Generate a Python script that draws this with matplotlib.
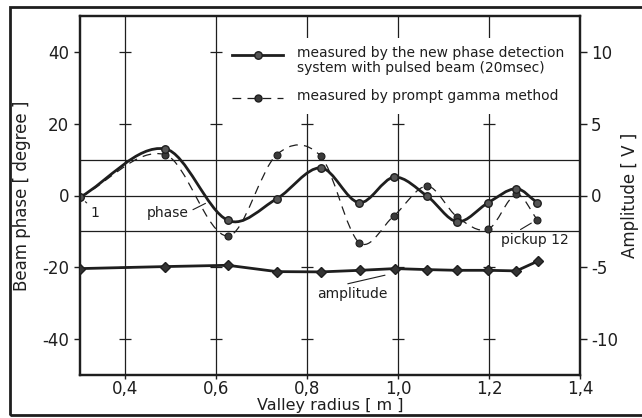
import numpy as np
import matplotlib
matplotlib.use("Agg")
import matplotlib.pyplot as plt
from matplotlib.path import Path
from matplotlib.patches import PathPatch, Rectangle
from matplotlib.lines import Line2D

plt.rcParams['font.family'] = ['DejaVu Sans']
plt.rcParams['axes.unicode_minus'] = False

# ---- data ----
phase_x = [0.300, 0.487, 0.625, 0.733, 0.830, 0.914, 0.991, 1.064, 1.130, 1.198, 1.260, 1.306]
phase_new = [-0.5, 13.0, -6.9, -0.9, 7.7, -2.0, 5.1, -0.2, -7.3, -2.0, 1.9, -2.0]
phase_gamma = [-0.5, 11.4, -11.3, 11.4, 10.9, -13.1, -5.6, 2.6, -6.0, -9.4, 0.3, -6.7]
amp_x = [0.300, 0.487, 0.625, 0.733, 0.830, 0.916, 0.993, 1.064, 1.129, 1.198, 1.260, 1.308]
amplitude = [-5.09, -4.95, -4.86, -5.30, -5.32, -5.21, -5.09, -5.16, -5.21, -5.21, -5.25, -4.56]

xticks = [0.4, 0.6, 0.8, 1.0, 1.2, 1.4]
xticklabels = ['0,4', '0,6', '0,8', '1,0', '1,2', '1,4']
yticks_left = [-40, -20, 0, 20, 40]
yticks_right = [-10, -5, 0, 5, 10]
grid_x = [0.4, 0.6, 0.8, 1.0, 1.2]
grid_y = [-10, 0, 10]
cross_y = [-40, -20, 20, 40]

legend_labels = ['measured by the new phase detection\nsystem with pulsed beam (20msec)',
                 'measured by prompt gamma method']

INK = '#1e1e1e'


def smooth_path(xs, ys):
    """Bezier path (Catmull-Rom style tangents) through the points."""
    x = np.asarray(xs, float)
    y = np.asarray(ys, float)
    n = len(x)
    d = np.zeros(n)
    d[0] = (y[1] - y[0]) / (x[1] - x[0])
    d[-1] = (y[-1] - y[-2]) / (x[-1] - x[-2])
    for i in range(1, n - 1):
        d[i] = (y[i + 1] - y[i - 1]) / (x[i + 1] - x[i - 1])
    verts = [(x[0], y[0])]
    codes = [Path.MOVETO]
    for i in range(n - 1):
        h = x[i + 1] - x[i]
        verts += [(x[i] + h / 3, y[i] + d[i] * h / 3),
                  (x[i + 1] - h / 3, y[i + 1] - d[i + 1] * h / 3),
                  (x[i + 1], y[i + 1])]
        codes += [Path.CURVE4] * 3
    return Path(verts, codes)


fig = plt.figure(figsize=(6.42, 4.18), dpi=100, facecolor='white')
ax = fig.add_axes([80 / 642, 1 - 375 / 418, 500 / 642, 359 / 418])
ax.set_xlim(0.3, 1.4)
ax.set_ylim(-50, 50)

# grid
for gx in grid_x:
    ax.axvline(gx, color=INK, lw=0.9, zorder=1)
for gy in grid_y:
    ax.axhline(gy, color=INK, lw=0.9, zorder=1)
for gx in grid_x:
    ax.plot([gx] * len(cross_y), cross_y, ls='none', marker='_', ms=8, mew=0.9,
            color=INK, zorder=1)

# phase curves
ax.add_patch(PathPatch(smooth_path(phase_x, phase_new), fill=False, lw=2.0,
                       edgecolor=INK, zorder=4, capstyle='round'))
ax.add_patch(PathPatch(smooth_path(phase_x, phase_gamma), fill=False, lw=0.9,
                       edgecolor=INK, linestyle=(0, (7, 5)), zorder=3))
ax.plot(phase_x, phase_new, ls='none', marker='o', ms=5.4, mfc='#555555',
        mec=INK, mew=1.0, zorder=6)
ax.plot(phase_x, phase_gamma, ls='none', marker='o', ms=5.0, mfc='#3a3a3a',
        mec=INK, mew=0.8, zorder=5)

# amplitude on right axis
ax2 = ax.twinx()
ax2.set_ylim(-12.5, 12.5)
ax2.plot(amp_x, amplitude, color=INK, lw=2.0, marker='D', ms=5.5, mfc='#333333',
         mec=INK, zorder=5)

# ticks
ax.set_xticks(xticks)
ax.set_xticklabels(xticklabels)
ax.set_yticks(yticks_left)
ax2.set_yticks(yticks_right)
ax.tick_params(axis='x', direction='out', length=3, width=1, labelsize=12, pad=0.5,
               colors=INK)
ax.tick_params(axis='y', direction='out', length=4, width=1, labelsize=12, pad=4,
               colors=INK)
ax2.tick_params(axis='y', direction='out', length=5, width=1, labelsize=12, pad=3,
                colors=INK)
for a in (ax, ax2):
    for s in a.spines.values():
        s.set_linewidth(1.6)
        s.set_color(INK)

ax.set_xlabel('Valley radius [ m ]', fontsize=11.5, color=INK, labelpad=0)
ax.set_ylabel('Beam phase [ degree ]', fontsize=12, color=INK, labelpad=8)
ax2.set_ylabel('Amplitude [ V ]', fontsize=12, color=INK, labelpad=2)

# legend (white box hiding grid)
ax.add_patch(Rectangle((0.29, 0.727), 0.70, 0.213, transform=ax.transAxes,
                       facecolor='white', edgecolor='none', zorder=7))
ax.add_line(Line2D([0.304, 0.406], [0.891, 0.891], transform=ax.transAxes,
                   color=INK, lw=2.0, zorder=8))
ax.add_line(Line2D([0.355], [0.891], transform=ax.transAxes, marker='o', ms=5.4,
                   mfc='#555555', mec=INK, zorder=9))
ax.text(0.434, 0.876, legend_labels[0], transform=ax.transAxes, fontsize=10,
        va='center', ha='left', linespacing=1.05, color=INK, zorder=9)
ax.add_line(Line2D([0.304, 0.406], [0.772, 0.772], transform=ax.transAxes,
                   color=INK, lw=0.9, ls=(0, (7, 5)), zorder=8))
ax.add_line(Line2D([0.355], [0.772], transform=ax.transAxes, marker='o', ms=5.0,
                   mfc='#3a3a3a', mec=INK, zorder=9))
ax.text(0.434, 0.776, legend_labels[1], transform=ax.transAxes, fontsize=10,
        va='center', ha='left', color=INK, zorder=9)

# annotations
arrow = dict(arrowstyle='-', color=INK, lw=0.8, shrinkA=1, shrinkB=5)
ax.annotate('1', xy=(phase_x[0], phase_new[0]), xytext=(0.333, -4.9),
            fontsize=10, ha='center', va='center', color=INK,
            arrowprops=dict(arrow, relpos=(0.0, 1.0)), zorder=9)
ax.annotate('phase', xy=(0.576, -2.2), xytext=(0.4936, -4.9),
            fontsize=10, ha='center', va='center', color=INK,
            arrowprops=dict(arrow, relpos=(1.0, 0.6), shrinkB=0), zorder=9)
ax.annotate('amplitude', xy=(0.971, -22.2), xytext=(0.8984, -27.4),
            fontsize=10, ha='center', va='center', color=INK,
            arrowprops=dict(arrow, relpos=(0.25, 1.0), shrinkB=0), zorder=9)
ax.annotate('pickup 12', xy=(phase_x[-1], phase_gamma[-1]), xytext=(1.301, -12.4),
            fontsize=10, ha='center', va='center', color=INK,
            arrowprops=dict(arrow, relpos=(0.2, 1.0)), zorder=9)

# outer frame of the figure
fig.patches.append(Rectangle((10 / 642, 3 / 418), 1.0, 408 / 418,
                             transform=fig.transFigure, fill=False,
                             edgecolor=INK, lw=2.0))

fig.savefig('out.png', dpi=100, facecolor='white')
